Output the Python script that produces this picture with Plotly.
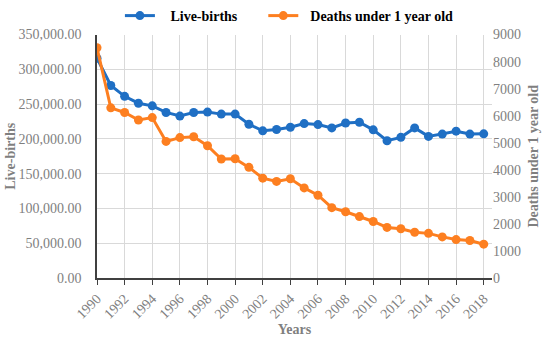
import plotly.graph_objects as go

years = list(range(1990, 2019))
live_births = [316000, 276700, 261200, 251300, 247500, 238000, 232800, 238000, 238500, 235600,
               235600, 221000, 211600, 213500, 216800, 222000, 220600, 215800, 222900, 223900,
               213000, 197400, 202200, 215800, 203600, 206900, 211100, 206900, 207300]
deaths = [8510, 6290, 6120, 5840, 5930, 5050, 5190, 5220, 4890, 4400,
          4410, 4090, 3690, 3570, 3670, 3330, 3060, 2600, 2450, 2270,
          2090, 1870, 1820, 1690, 1650, 1520, 1420, 1385, 1250]

blue = '#1f6fc4'
orange = '#fd7f20'
serif = 'Liberation Serif'
gray = '#7f7f7f'
nb = '\u00a0'

fig = go.Figure()
fig.add_trace(go.Scatter(x=years, y=live_births, name=nb * 3 + 'Live-births' + nb * 6, mode='lines+markers',
                         line=dict(color=blue, width=3), marker=dict(size=9, color=blue)))
fig.add_trace(go.Scatter(x=years, y=deaths, name=nb * 2 + 'Deaths under 1 year old', mode='lines+markers',
                         line=dict(color=orange, width=3), marker=dict(size=9, color=orange),
                         yaxis='y2'))

W, H = 550, 337
mt, mb = 0, 59
plot_top_px = 31
dom_top = 1 - (plot_top_px - mt) / (H - mt - mb)

fig.update_layout(
    width=W, height=H,
    margin=dict(l=97, r=58, t=mt, b=mb),
    plot_bgcolor='white', paper_bgcolor='white',
    font=dict(family=serif, size=14, color=gray),
    showlegend=True,
    legend=dict(orientation='h', x=0.058, xanchor='left', y=1.015, yanchor='top',
                font=dict(family=serif, size=14, color='black', weight='bold'),
                itemwidth=30, bgcolor='rgba(0,0,0,0)'),
    xaxis=dict(range=[1990, 2018.6], tickmode='array', tickvals=list(range(1990, 2019, 2)),
               ticktext=[str(y) for y in range(1990, 2019, 2)], tickangle=-45,
               showgrid=True, gridcolor='#d9d9d9', gridwidth=1,
               showline=True, linecolor='#404040', linewidth=2,
               ticks='outside', ticklen=5, tickcolor='#404040',
               automargin=False,
               tickfont=dict(family=serif, size=14, color=gray),
               title=dict(text='<b>Years</b>', font=dict(family=serif, size=14, color=gray), standoff=16),
               zeroline=False),
    yaxis=dict(range=[0, 350000], dtick=50000, tickformat=',.2f', domain=[0, dom_top],
               showgrid=True, gridcolor='#d9d9d9', gridwidth=1,
               showline=True, linecolor='#404040', linewidth=1.5,
               ticklabelstandoff=11, automargin=False,
               tickfont=dict(family=serif, size=14, color=gray),
               title=dict(text='<b>Live-births</b>', font=dict(family=serif, size=14, color=gray), standoff=0),
               zeroline=False),
    yaxis2=dict(range=[0, 9000], dtick=1000, overlaying='y', side='right',
                showgrid=False, showline=False, automargin=False,
                tickfont=dict(family=serif, size=14, color=gray),
                title=dict(text='<b>Deaths under 1 year old</b>', font=dict(family=serif, size=14, color=gray), standoff=8),
                zeroline=False),
)

fig.write_html('out.html', config={'displayModeBar': False},
               post_script="document.body.style.margin='0';")
